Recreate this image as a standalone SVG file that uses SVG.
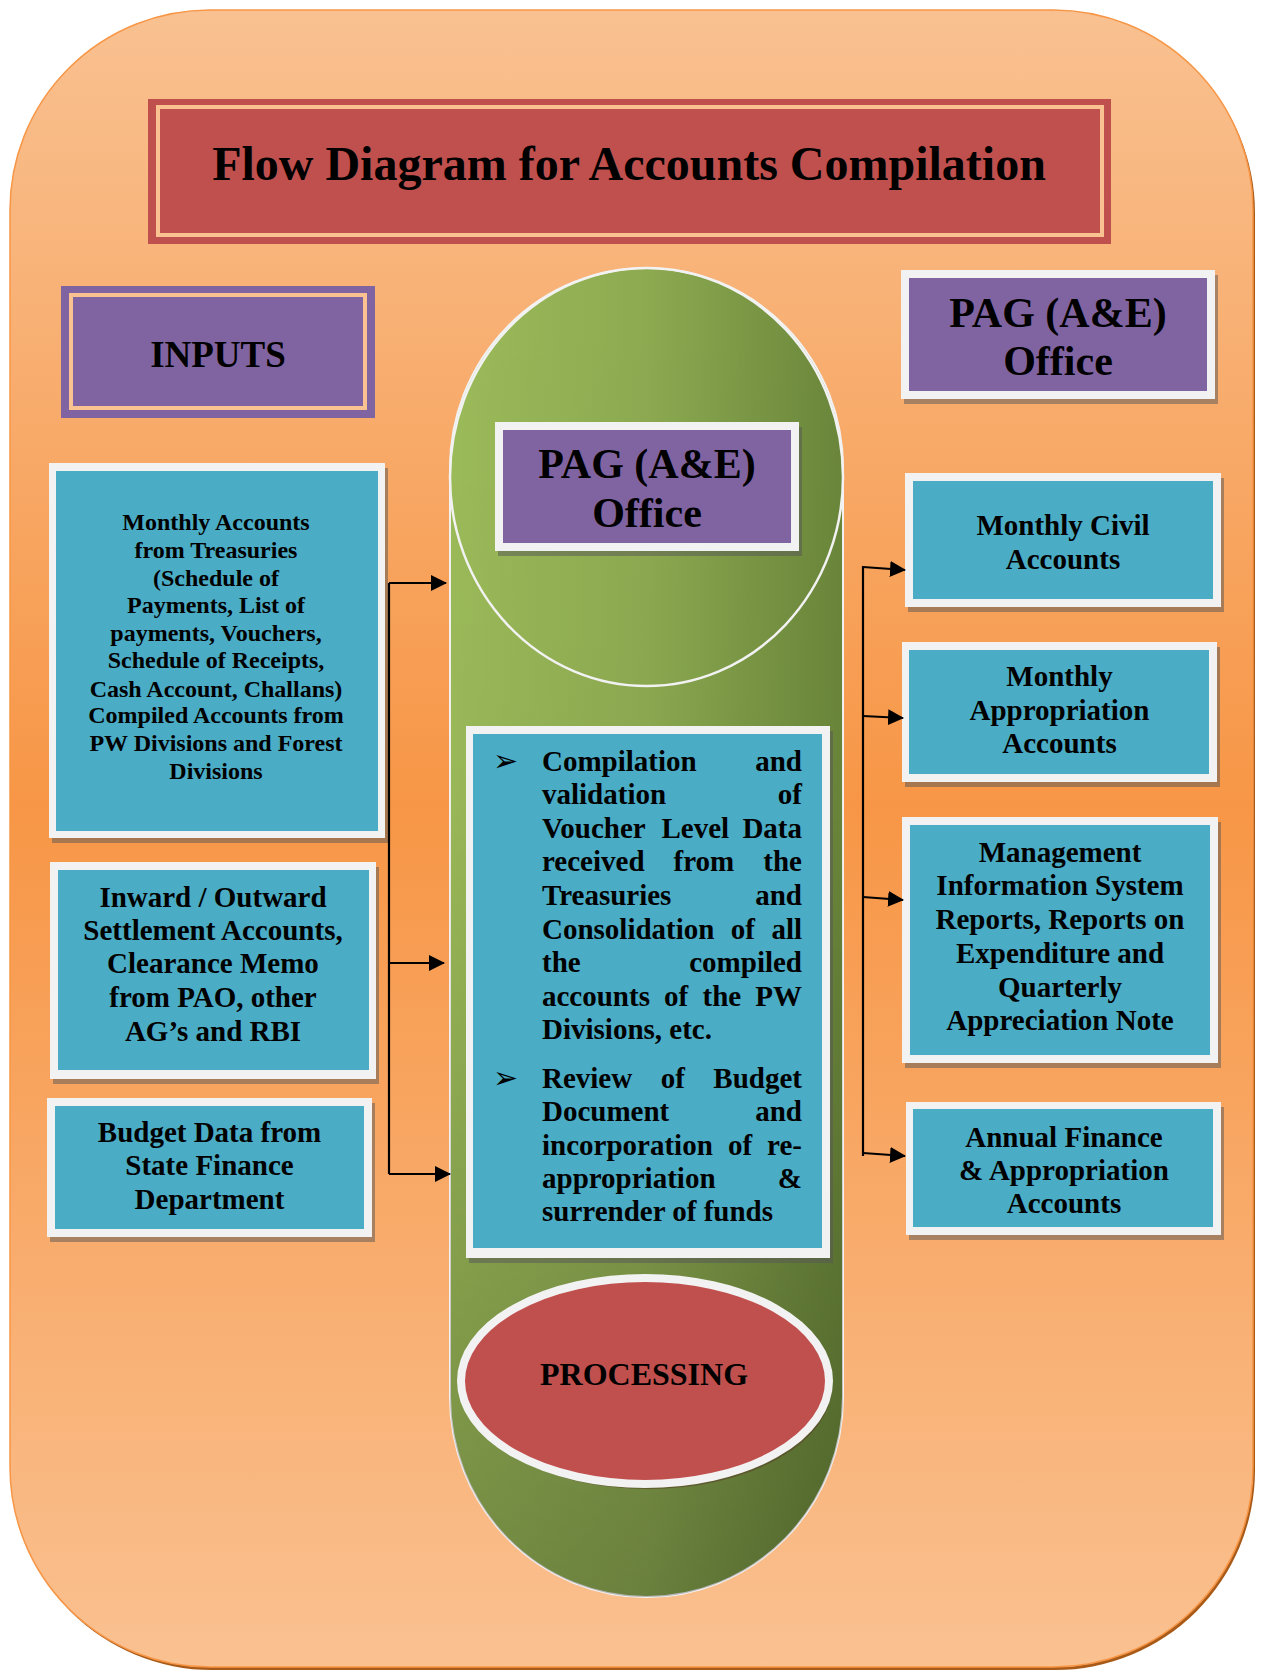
<svg xmlns="http://www.w3.org/2000/svg" width="1265" height="1671" viewBox="0 0 1265 1671">
<defs>
<linearGradient id="bg" x1="0" y1="10" x2="0" y2="1667" gradientUnits="userSpaceOnUse">
<stop offset="0" stop-color="#F9C191"/>
<stop offset="0.48" stop-color="#F79646"/>
<stop offset="1" stop-color="#FAC191"/>
</linearGradient>
<linearGradient id="gH" x1="450" y1="0" x2="843" y2="0" gradientUnits="userSpaceOnUse">
<stop offset="0" stop-color="#9CBB59"/>
<stop offset="0.5" stop-color="#8DAA51"/>
<stop offset="1" stop-color="#6A863A"/>
</linearGradient>
<linearGradient id="gV" x1="0" y1="268" x2="0" y2="1597" gradientUnits="userSpaceOnUse">
<stop offset="0" stop-color="#000" stop-opacity="0"/>
<stop offset="0.4" stop-color="#000" stop-opacity="0.02"/>
<stop offset="1" stop-color="#000" stop-opacity="0.25"/>
</linearGradient>
<marker id="ah" viewBox="0 0 16 16" refX="15" refY="8" markerWidth="16" markerHeight="16" markerUnits="userSpaceOnUse" orient="auto">
<path d="M0,0 L16,8 L0,16 z" fill="#000"/>
</marker>
</defs>
<style>
text{font-family:"Liberation Serif","Times New Roman",serif;font-weight:bold;fill:#000}
.c{text-anchor:middle}
.e{text-anchor:end}
.t24{font-size:24px}
.t29{font-size:29px}
.t42{font-size:42px}
.sh{fill:#555;fill-opacity:0.5}
.wf{fill:#F2F2F2}
.bl{fill:#4BACC6}
.pu{fill:#8064A2}
.conn{stroke:#000;stroke-width:2.2;fill:none}
.bul{font-family:"DejaVu Sans",sans-serif;font-weight:normal;font-size:30px}
</style>

<g id="background">
<rect x="12" y="13" width="1243" height="1657" rx="200" ry="200" fill="#A85A18"/>
<rect x="10" y="10" width="1243" height="1657" rx="200" ry="200" fill="url(#bg)" stroke="#F79646" stroke-width="1.5"/>
</g>

<g id="title">
<rect x="148" y="99" width="963" height="145" fill="#C0504D"/>
<rect x="158" y="107" width="944" height="128" fill="none" stroke="#FAC191" stroke-width="4"/>
<text class="c" x="629" y="180" font-size="48">Flow Diagram for Accounts Compilation</text>
</g>

<g id="inputs-label">
<rect x="61" y="286" width="314" height="132" class="pu"/>
<rect x="71" y="295" width="294" height="113" fill="none" stroke="#FAC191" stroke-width="4"/>
<text class="c" x="218" y="367" font-size="37">INPUTS</text>
</g>

<g id="pag-output-label">
<rect x="904" y="275" width="314" height="129" class="sh"/>
<rect x="901" y="270" width="314" height="129" class="wf"/>
<rect x="909" y="278" width="298" height="113" class="pu"/>
<text class="c t42" x="1058" y="327">PAG (A&amp;E)</text>
<text class="c t42" x="1058" y="375">Office</text>
</g>

<g id="processing-column">
<rect x="450" y="268" width="393" height="1329" rx="196.5" ry="200" fill="url(#gH)" stroke="#F2F2F2" stroke-width="2"/>
<rect x="450" y="268" width="393" height="1329" rx="196.5" ry="200" fill="url(#gV)"/>
<ellipse cx="646.5" cy="477" rx="196.5" ry="209" fill="none" stroke="#F2F2F2" stroke-width="2.5"/>
</g>

<g id="pag-processing-label">
<rect x="498" y="427" width="304" height="129" class="sh"/>
<rect x="495" y="422" width="304" height="129" class="wf"/>
<rect x="503" y="430" width="288" height="113" class="pu"/>
<text class="c t42" x="647" y="478">PAG (A&amp;E)</text>
<text class="c t42" x="647" y="527">Office</text>
</g>

<g id="processing-tasks">
<rect x="469" y="731" width="364" height="532" class="sh"/>
<rect x="466" y="726" width="364" height="532" class="wf"/>
<rect x="473" y="734" width="349" height="514" class="bl"/>
<g class="t29">
<text class="bul" x="493" y="771">➢</text>
<text x="542" y="771">Compilation</text><text class="e" x="802" y="771">and</text>
<text x="542" y="804">validation</text><text class="e" x="802" y="804">of</text>
<text x="542" y="838">Voucher</text><text x="661.5" y="838">Level</text><text class="e" x="802" y="838">Data</text>
<text x="542" y="871">received</text><text x="673.5" y="871">from</text><text class="e" x="802" y="871">the</text>
<text x="542" y="905">Treasuries</text><text class="e" x="802" y="905">and</text>
<text x="542" y="939">Consolidation</text><text x="730.8" y="939">of</text><text class="e" x="802" y="939">all</text>
<text x="542" y="972">the</text><text class="e" x="802" y="972">compiled</text>
<text x="542" y="1006">accounts</text><text x="664" y="1006">of</text><text x="702.5" y="1006">the</text><text class="e" x="802" y="1006">PW</text>
<text x="542" y="1039">Divisions, etc.</text>
<text class="bul" x="493" y="1088">➢</text>
<text x="542" y="1088">Review</text><text x="660.7" y="1088">of</text><text class="e" x="802" y="1088">Budget</text>
<text x="542" y="1121">Document</text><text class="e" x="802" y="1121">and</text>
<text x="542" y="1155">incorporation</text><text x="728" y="1155">of</text><text class="e" x="802" y="1155">re-</text>
<text x="542" y="1188">appropriation</text><text class="e" x="802" y="1188">&amp;</text>
<text x="542" y="1221">surrender of funds</text>
</g>
</g>

<g id="processing-label">
<ellipse cx="648" cy="1386" rx="184" ry="103" fill="#5A4A2A" fill-opacity="0.7"/>
<ellipse cx="645" cy="1381" rx="184" ry="103" fill="#C0504D" stroke="#F2F2F2" stroke-width="8"/>
<text class="c" x="644" y="1385" font-size="32">PROCESSING</text>
</g>

<g id="input-monthly-accounts">
<rect x="52" y="468" width="336" height="375" class="sh"/>
<rect x="49" y="463" width="336" height="375" class="wf"/>
<rect x="56" y="471" width="322" height="360" class="bl"/>
<g class="c t24">
<text x="216" y="530">Monthly Accounts</text>
<text x="216" y="558">from Treasuries</text>
<text x="216" y="586">(Schedule of</text>
<text x="216" y="613">Payments, List of</text>
<text x="216" y="641">payments, Vouchers,</text>
<text x="216" y="668">Schedule of Receipts,</text>
<text x="216" y="697">Cash Account, Challans)</text>
<text x="216" y="723">Compiled Accounts from</text>
<text x="216" y="751">PW Divisions and Forest</text>
<text x="216" y="779">Divisions</text>
</g>
</g>

<g id="input-settlement-accounts">
<rect x="53" y="867" width="326" height="217" class="sh"/>
<rect x="50" y="862" width="326" height="217" class="wf"/>
<rect x="58" y="870" width="311" height="200" class="bl"/>
<g class="c t29">
<text x="213" y="907">Inward / Outward</text>
<text x="213" y="940">Settlement Accounts,</text>
<text x="213" y="973">Clearance Memo</text>
<text x="213" y="1007">from PAO, other</text>
<text x="213" y="1041">AG’s and RBI</text>
</g>
</g>

<g id="input-budget-data">
<rect x="50" y="1103" width="325" height="139" class="sh"/>
<rect x="47" y="1098" width="325" height="139" class="wf"/>
<rect x="55" y="1106" width="309" height="123" class="bl"/>
<g class="c t29">
<text x="209.5" y="1142">Budget Data from</text>
<text x="209.5" y="1175">State Finance</text>
<text x="209.5" y="1209">Department</text>
</g>
</g>

<g id="output-monthly-civil">
<rect x="908" y="478" width="316" height="134" class="sh"/>
<rect x="905" y="473" width="316" height="134" class="wf"/>
<rect x="913" y="481" width="300" height="118" class="bl"/>
<g class="c t29">
<text x="1063" y="535">Monthly Civil</text>
<text x="1063" y="569">Accounts</text>
</g>
</g>

<g id="output-monthly-appropriation">
<rect x="905" y="647" width="315" height="140" class="sh"/>
<rect x="902" y="642" width="315" height="140" class="wf"/>
<rect x="909" y="650" width="300" height="124" class="bl"/>
<g class="c t29">
<text x="1059.5" y="686">Monthly</text>
<text x="1059.5" y="720">Appropriation</text>
<text x="1059.5" y="753">Accounts</text>
</g>
</g>

<g id="output-mis-reports">
<rect x="905" y="822" width="316" height="246" class="sh"/>
<rect x="902" y="817" width="316" height="246" class="wf"/>
<rect x="910" y="825" width="300" height="230" class="bl"/>
<g class="c t29">
<text x="1060" y="862">Management</text>
<text x="1060" y="895">Information System</text>
<text x="1060" y="929">Reports, Reports on</text>
<text x="1060" y="963">Expenditure and</text>
<text x="1060" y="997">Quarterly</text>
<text x="1060" y="1030">Appreciation Note</text>
</g>
</g>

<g id="output-annual-accounts">
<rect x="909" y="1107" width="315" height="133" class="sh"/>
<rect x="906" y="1102" width="315" height="133" class="wf"/>
<rect x="913" y="1109" width="300" height="118" class="bl"/>
<g class="c t29">
<text x="1064" y="1147">Annual Finance</text>
<text x="1064" y="1180">&amp; Appropriation</text>
<text x="1064" y="1213">Accounts</text>
</g>
</g>

<g id="connectors">
<path class="conn" d="M389,583 V1174"/>
<path class="conn" d="M389,583 H446" marker-end="url(#ah)"/>
<path class="conn" d="M389,963 H444" marker-end="url(#ah)"/>
<path class="conn" d="M389,1174 H450" marker-end="url(#ah)"/>
<path class="conn" d="M863,566 V1156"/>
<path class="conn" d="M863,567 L905,570" marker-end="url(#ah)"/>
<path class="conn" d="M863,716 L903,718" marker-end="url(#ah)"/>
<path class="conn" d="M863,897 L903,900" marker-end="url(#ah)"/>
<path class="conn" d="M863,1153 L905,1156" marker-end="url(#ah)"/>
</g>
</svg>
